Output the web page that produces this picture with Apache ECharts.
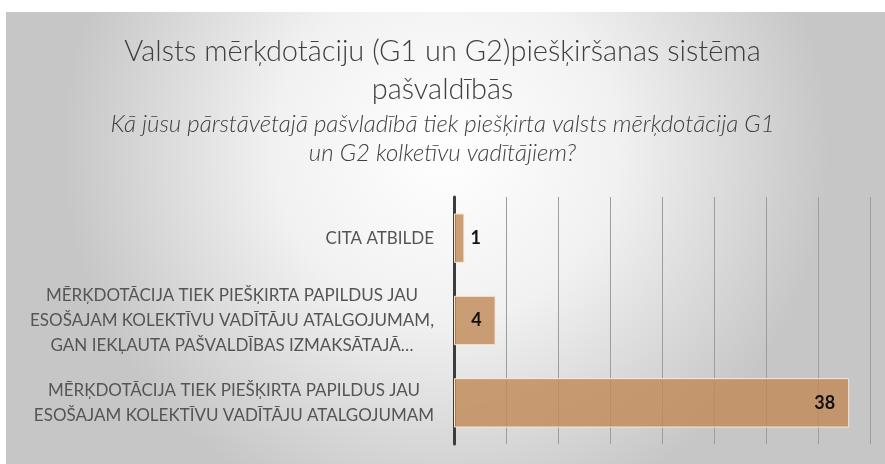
<!DOCTYPE html>
<html>
<head>
<meta charset="utf-8">
<script src="https://cdn.jsdelivr.net/npm/echarts@6/dist/echarts.min.js"></script>
<style>
  html, body { margin: 0; padding: 0; background: #fff; }
  #myChart { width: 885px; height: 464px; }
</style>
</head>
<body>
<div id="myChart"></div>
<script>
// categories top to bottom, as in the picture
var categories = [
  'CITA ATBILDE',
  'MĒRĶDOTĀCIJA TIEK PIEŠĶIRTA PAPILDUS JAU\nESOŠAJAM KOLEKTĪVU VADĪTĀJU ATALGOJUMAM,\nGAN IEKĻAUTA PAŠVALDĪBAS IZMAKSĀTAJĀ…',
  'MĒRĶDOTĀCIJA TIEK PIEŠĶIRTA PAPILDUS JAU\nESOŠAJAM KOLEKTĪVU VADĪTĀJU ATALGOJUMAM'
];
var answers = [1, 4, 38];

var titleText = 'Valsts mērķdotāciju (G1 un G2)piešķiršanas sistēma\npašvaldībās';
var subText = 'Kā jūsu pārstāvētajā pašvladībā tiek piešķirta valsts mērķdotācija G1\nun G2 kolketīvu vadītājiem?';

var myChart = echarts.init(document.getElementById('myChart'));

var barData = answers.map(function (v) {
  var item = { value: v };
  // small bar -> label sits outside like in excel
  if (v < 3) item.label = { position: 'right', distance: 6 };
  return item;
});

var option = {
  backgroundColor: '#ffffff',
  graphic: [{
    type: 'rect',
    left: 6, top: 12,
    shape: { width: 879, height: 452 },
    style: {
      fill: new echarts.graphic.RadialGradient(0.5, 0.3, 0.85, [
        { offset: 0, color: '#ffffff' },
        { offset: 0.45, color: '#f1f1f1' },
        { offset: 1, color: '#c6c6c6' }
      ])
    },
    z: -10,
    silent: true
  }],
  title: [{
    text: titleText,
    left: 'center',
    top: 28,
    textStyle: {
      fontFamily: 'Lato',
      fontWeight: 300,
      fontSize: 29,
      lineHeight: 38,
      color: '#3f3f3f',
      align: 'center'
    }
  }, {
    text: subText,
    left: 'center',
    top: 105,
    textStyle: {
      fontFamily: 'Lato',
      fontStyle: 'italic',
      fontWeight: 300,
      fontSize: 24,
      lineHeight: 29,
      color: '#404040',
      align: 'center'
    }
  }],
  grid: { left: 454, right: 15, top: 197, bottom: 20, containLabel: false },
  xAxis: {
    type: 'value',
    min: 0, max: 40, interval: 5,
    axisLine: { show: false },
    axisTick: { show: false },
    axisLabel: { show: false },
    splitLine: { lineStyle: { color: '#9d9d9d', width: 1 } }
  },
  yAxis: {
    type: 'category',
    inverse: true,
    data: categories,
    axisLine: { lineStyle: { color: '#3c3c3c', width: 3 } },
    axisTick: { show: false },
    axisLabel: {
      margin: 20,
      align: 'right',
      formatter: function (v) {
        return v.split('\n').map(function (l) { return '{c|' + l + '}'; }).join('\n');
      },
      rich: {
        c: { align: 'center', fontFamily: 'Lato', fontSize: 17, lineHeight: 25, color: '#555555' }
      }
    }
  },
  series: [{
    name: 'Atbildes',
    type: 'bar',
    data: barData,
    barCategoryGap: '40%',
    itemStyle: {
      color: 'rgba(194,138,88,0.82)',
      borderColor: '#f6e9da',
      borderWidth: 1
    },
    label: {
      show: true,
      position: 'insideRight',
      distance: 14,
      fontFamily: 'Lato',
      fontWeight: 'bold',
      fontSize: 18,
      color: '#111111'
    }
  }]
};

myChart.setOption(option);
</script>
</body>
</html>
